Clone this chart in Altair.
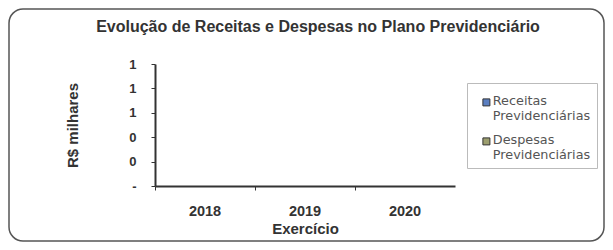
import altair as alt
import pandas as pd

# ---- data ----
years = ["2018", "2019", "2020"]
series = ["Receitas Previdenciárias", "Despesas Previdenciárias"]
receitas = [0, 0, 0]
despesas = [0, 0, 0]
series_colors = ["#5B7FC1", "#9C9E6E"]
y_tick_values = [0, 0.2, 0.4, 0.6, 0.8, 1.0]
y_tick_labels = ["-", "0", "0", "1", "1", "1"]

title_text = "Evolução de Receitas e Despesas no Plano Previdenciário"
y_title = "R$ milhares"
x_title = "Exercício"

rows = []
for i, yr in enumerate(years):
    rows.append({"ano": yr, "serie": series[0], "valor": receitas[i]})
    rows.append({"ano": yr, "serie": series[1], "valor": despesas[i]})
df = pd.DataFrame(rows)

FONT = "Liberation Sans"
W, H = 300, 122

label_arr = "[" + ",".join("'" + s + "'" for s in y_tick_labels) + "]"

# square legend symbol shifted down so it sits beside the first label line
legend_symbol = "M-1,1H1V3H-1Z"

bars = alt.Chart(df).mark_bar().encode(
    x=alt.X(
        "ano:N",
        sort=years,
        scale=alt.Scale(paddingInner=0, paddingOuter=0),
        axis=alt.Axis(
            title=x_title,
            labelAngle=0,
            labelFont=FONT, labelFontSize=14.5, labelFontWeight="bold", labelColor="#333",
            labelPadding=14, labelBaseline="top",
            titleFont=FONT, titleFontSize=15, titleFontWeight="bold", titleColor="#333",
            titleY=42, titleBaseline="middle",
            domainColor="#333", domainWidth=2, tickColor="#333", tickSize=4,
            bandPosition=0,
        ),
    ),
    xOffset=alt.XOffset("serie:N", sort=series),
    y=alt.Y(
        "valor:Q",
        scale=alt.Scale(domain=[0, 1], nice=False),
        axis=alt.Axis(
            title=y_title,
            values=y_tick_values,
            labelExpr=label_arr + "[round(datum.value*5)]",
            labelFont=FONT, labelFontSize=13, labelFontWeight="bold", labelColor="#333",
            labelPadding=15,
            titleFont=FONT, titleFontSize=15, titleFontWeight="bold", titleColor="#333",
            titleAngle=-90, titleX=-83, titleY=H / 2, titleAlign="center", titleBaseline="middle",
            domainColor="#333", domainWidth=2, tickColor="#333", tickSize=4,
            grid=False,
        ),
    ),
    color=alt.Color(
        "serie:N",
        sort=series,
        scale=alt.Scale(domain=series, range=series_colors),
        legend=alt.Legend(
            title=None,
            orient="none", legendX=312, legendY=19,
            labelExpr="split(datum.label, ' ')",
            labelFont="DejaVu Sans", labelFontSize=12.8, labelColor="#555",
            labelBaseline="top", labelOffset=0,
            symbolType=legend_symbol, symbolSize=49, symbolOffset=7,
            symbolStrokeColor="#333", symbolStrokeWidth=1, symbolOpacity=1,
            strokeColor="#bbb", padding=6, rowPadding=5,
        ),
    ),
)

frame = alt.Chart(pd.DataFrame({"k": [0]})).mark_rect(
    fill=None, stroke="#555", strokeWidth=1.5, cornerRadius=14, clip=False
).encode(
    x=alt.value(-146), x2=alt.value(449), y=alt.value(-55), y2=alt.value(177)
)

chart = alt.layer(frame, bars).properties(
    width=W, height=H,
    title=alt.TitleParams(
        title_text, font=FONT, fontSize=16, fontWeight="bold", color="#333",
        anchor="middle", dx=13, offset=-40, baseline="alphabetic",
    ),
    autosize=alt.AutoSizeParams(type="none"),
    padding={"left": 147, "top": 56, "right": 150, "bottom": 56},
).configure_view(stroke=None)

chart.save("out.html", embed_options={"renderer": "svg", "actions": False})
